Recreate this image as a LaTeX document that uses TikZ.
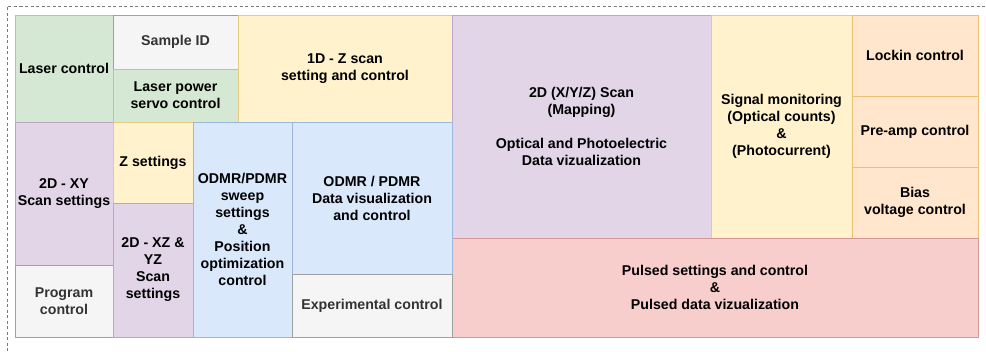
\documentclass[tikz,border=0pt]{standalone}
\usepackage{fontspec}
\setmainfont{Liberation Sans}
\definecolor{gfill}{HTML}{D5E8D4}\definecolor{gline}{HTML}{A9CC9F}
\definecolor{kfill}{HTML}{F5F5F5}\definecolor{kline}{HTML}{A0A0A0}
\definecolor{yfill}{HTML}{FFF2CC}\definecolor{yline}{HTML}{E6CD7E}
\definecolor{pfill}{HTML}{E1D5E7}\definecolor{pline}{HTML}{BBA6C7}
\definecolor{bfill}{HTML}{DAE8FC}\definecolor{bline}{HTML}{9CB6DC}
\definecolor{ofill}{HTML}{FFE6CC}\definecolor{oline}{HTML}{EBC073}
\definecolor{rfill}{HTML}{F8CECC}\definecolor{rline}{HTML}{D69896}
\definecolor{ktext}{HTML}{333333}
\definecolor{dashc}{HTML}{7A7A7A}
\tikzset{
  box/.style={rectangle, anchor=north west, inner sep=0pt, outer sep=0pt, line width=0.9pt,
    align=center, font=\bfseries\fontsize{14.2}{17}\selectfont, text=black},
  gbox/.style={box, fill=gfill, draw=gline},
  kbox/.style={box, fill=kfill, draw=kline, text=ktext},
  ybox/.style={box, fill=yfill, draw=yline},
  pbox/.style={box, fill=pfill, draw=pline},
  bbox/.style={box, fill=bfill, draw=bline},
  obox/.style={box, fill=ofill, draw=oline},
  rbox/.style={box, fill=rfill, draw=rline},
  frame/.style={draw=dashc, line width=0.6pt, dash pattern=on 3pt off 2.5pt}
}
\begin{document}
\begin{tikzpicture}[x=1pt,y=-1pt]
\useasboundingbox (0,0) rectangle (986,351);
\draw[frame] (7,351) -- (7,6) -- (986,6);
\node[gbox, minimum width=98pt, minimum height=107pt] (laser) at (15,15) {Laser control};
\node[kbox, minimum width=125pt, minimum height=54pt] (sample) at (113,15) {Sample ID};
\node[gbox, minimum width=125pt, minimum height=53pt] (servo) at (113,69) {Laser power\\servo control};
\node[ybox, minimum width=214pt, minimum height=107pt] (zscan) at (238,15) {1D - Z scan\\setting and control};
\node[pbox, minimum width=259pt, minimum height=223pt] (map) at (452,15) {2D (X/Y/Z) Scan\\(Mapping)\\[17pt]Optical and Photoelectric\\Data vizualization};
\node[ybox, minimum width=141pt, minimum height=223pt] (signal) at (711,15) {Signal monitoring\\(Optical counts)\\\&\\(Photocurrent)};
\node[obox, minimum width=126pt, minimum height=81pt] (lockin) at (852,15) {Lockin control};
\node[obox, minimum width=126pt, minimum height=71pt] (preamp) at (852,96) {Pre-amp control};
\node[obox, minimum width=126pt, minimum height=71pt] (bias) at (852,167) {Bias\\voltage control};
\node[rbox, minimum width=526pt, minimum height=99pt] (pulsed) at (452,238) {Pulsed settings and control\\\&\\Pulsed data vizualization};
\node[pbox, minimum width=98pt, minimum height=143pt] (xy) at (15,122) {2D - XY\\Scan settings};
\node[kbox, minimum width=98pt, minimum height=72pt] (program) at (15,265) {Program\\control};
\node[ybox, minimum width=80pt, minimum height=81pt] (zset) at (113,122) {Z settings};
\node[pbox, minimum width=80pt, minimum height=134pt] (xz) at (113,203) {2D - XZ \&\\YZ\\Scan\\settings};
\node[bbox, minimum width=99pt, minimum height=215pt] (sweep) at (193,122) {ODMR/PDMR\\sweep\\settings\\\&\\Position\\optimization\\control};
\node[bbox, minimum width=160pt, minimum height=152pt] (odmr) at (292,122) {ODMR / PDMR\\Data visualization\\and control};
\node[kbox, minimum width=160pt, minimum height=63pt] (exp) at (292,274) {Experimental control};
\end{tikzpicture}
\end{document}
